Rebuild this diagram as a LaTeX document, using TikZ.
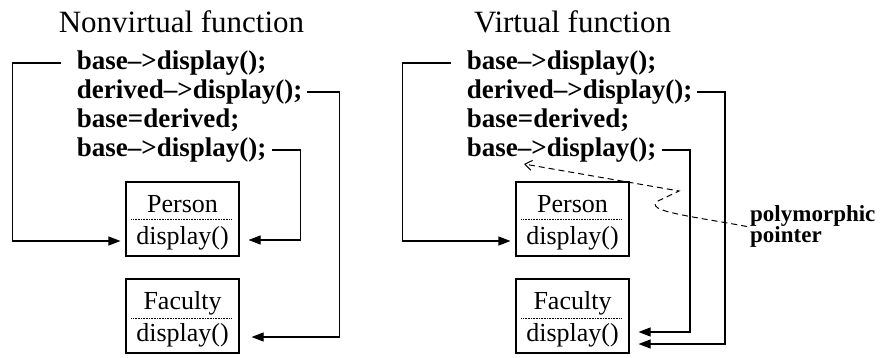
\documentclass[tikz,border=0pt]{standalone}
\usepackage{fontspec}
\setmainfont{Liberation Serif}
\usetikzlibrary{arrows.meta}
\begin{document}
\begin{tikzpicture}[x=1pt,y=-1pt,
  title/.style={font=\fontsize{31}{31}\selectfont, anchor=base, inner sep=0pt},
  code/.style={font=\fontsize{27}{27}\selectfont\bfseries, anchor=base west, inner sep=0pt},
  cls/.style={draw, line width=1.1pt, minimum width=113pt, minimum height=74pt, inner sep=0pt},
  member/.style={font=\fontsize{26}{26}\selectfont, anchor=base, inner sep=0pt},
  sepline/.style={line width=0.7pt, dash pattern=on 0.8pt off 0.8pt},
  conn/.style={line width=1.1pt, -{Triangle[length=12pt,width=9pt]}},
  pointer/.style={line width=1pt, dash pattern=on 6pt off 4pt, -{Straight Barb[length=7pt,width=10pt]}},
  note/.style={font=\fontsize{23}{20}\selectfont\bfseries, align=left, anchor=west, inner sep=0pt}]
\useasboundingbox (0,0) rectangle (888,358);

% ---------- nonvirtual call ----------
\node[title] (t1) at (181.5,33) {Nonvirtual function};
\node[code] (l1) at (76.7,69.5)  {base\textendash>display();};
\node[code] (l2) at (76.7,98.5)  {derived\textendash>display();};
\node[code] (l3) at (76.7,127.5) {base=derived;};
\node[code] (l4) at (76.7,156.5) {base\textendash>display();};

% class boxes: the name sits above the dotted rule, the member below it
\node[cls] (pA) at (182.5,219) {};
\node[member] (pAn) at ([yshift=6.5pt]pA.center) {Person};
\node[member] (pAd) at ([yshift=-25pt]pA.center) {display()};
\draw[sepline] ([xshift=6pt]pA.west) -- ([xshift=-8pt]pA.east);

\node[cls] (fA) at (182.5,316) {};
\node[member] (fAn) at ([yshift=6.5pt]fA.center) {Faculty};
\node[member] (fAd) at ([yshift=-25pt]fA.center) {display()};
\draw[sepline] ([xshift=6pt,yshift=-2pt]fA.west) -- ([xshift=-8pt,yshift=-2pt]fA.east);

\coordinate (a1) at (12.7,241);
\coordinate (a2) at (339.3,337);
\coordinate (a4) at (300.5,240);
\draw[conn, shorten >=5pt]  ([xshift=-16pt]l1.west) -| (a1) -- (pA.west |- a1);
\draw[conn, shorten >=12pt] ([xshift=5pt]l2.east)  -| (a2) -- (fA.east |- a2);
\draw[conn, shorten >=9pt]  ([xshift=5pt]l4.east)  -| (a4) -- (pA.east |- a4);

% ---------- virtual call ----------
\node[title] (t2) at (572.5,33) {Virtual function};
\node[code] (r1) at (466.7,69.5)  {base\textendash>display();};
\node[code] (r2) at (466.7,98.5)  {derived\textendash>display();};
\node[code] (r3) at (466.7,127.5) {base=derived;};
\node[code] (r4) at (466.7,156.5) {base\textendash>display();};

\node[cls] (pB) at (572.5,219) {};
\node[member] (pBn) at ([yshift=6.5pt]pB.center) {Person};
\node[member] (pBd) at ([yshift=-25pt]pB.center) {display()};
\draw[sepline] ([xshift=6pt]pB.west) -- ([xshift=-8pt]pB.east);

\node[cls] (fB) at (572.5,316) {};
\node[member] (fBn) at ([yshift=6.5pt]fB.center) {Faculty};
\node[member] (fBd) at ([yshift=-25pt]fB.center) {display()};
\draw[sepline] ([xshift=6pt,yshift=-2pt]fB.west) -- ([xshift=-8pt,yshift=-2pt]fB.east);

\coordinate (b1) at (402.7,241);
\coordinate (b2) at (725,344);
\coordinate (b4) at (690,332);
\draw[conn, shorten >=5pt] ([xshift=-16pt]r1.west) -| (b1) -- (pB.west |- b1);
\draw[conn, shorten >=9pt] ([xshift=5pt]r2.east)  -| (b2) -- (fB.east |- b2);
\draw[conn, shorten >=9pt] ([xshift=5pt]r4.east)  -| (b4) -- (fB.east |- b4);

% polymorphic pointer annotation
\node[note] (pp) at (750,226.5) {polymorphic\\pointer};
\coordinate (ptip) at (524,164);
\draw[pointer] ([xshift=-3pt]pp.west) .. controls (690,216) and (643,211) .. (658,201) -- (679,191) -- (ptip);
\end{tikzpicture}
\end{document}
